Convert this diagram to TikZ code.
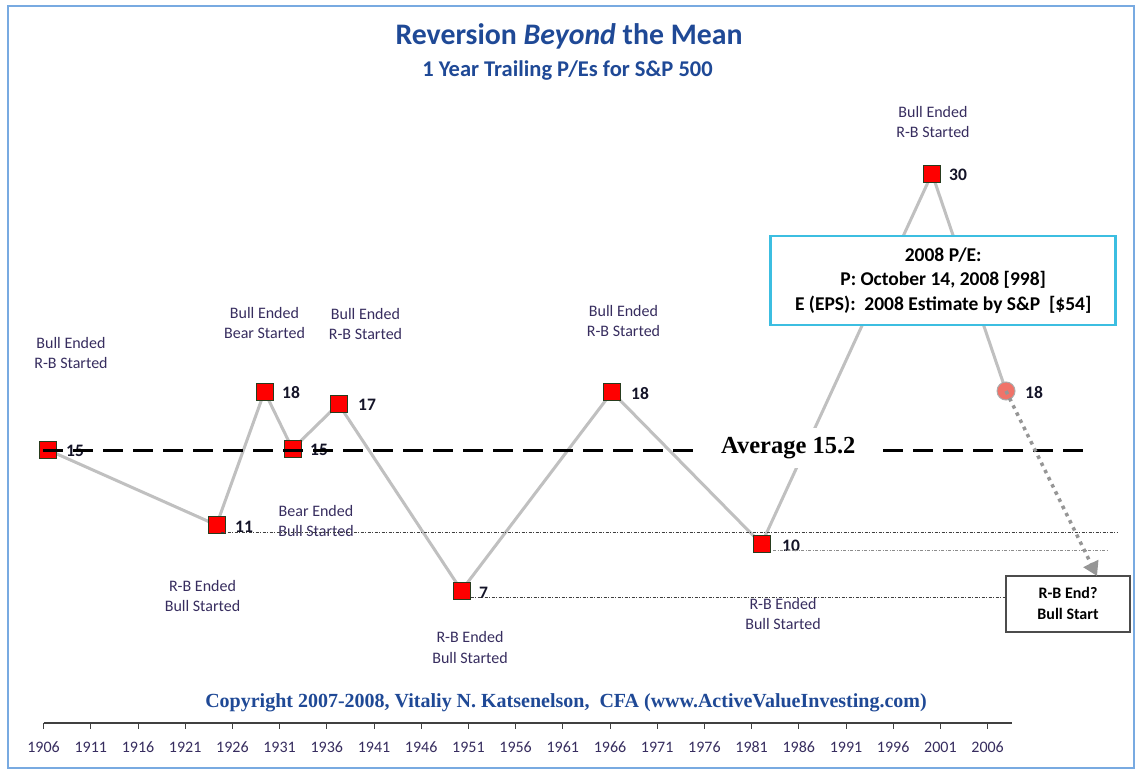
\documentclass[tikz,border=0pt]{standalone}
\usepackage{fontspec}
\setmainfont{Carlito}
\newfontfamily\timesfam{Liberation Serif}
\usetikzlibrary{arrows.meta}
\definecolor{titleblue}{RGB}{31,73,150}
\definecolor{lblcol}{RGB}{55,45,95}
\definecolor{linegray}{RGB}{192,192,192}
\definecolor{sqred}{RGB}{255,0,0}
\definecolor{sqedge}{RGB}{40,60,30}
\definecolor{calloutcyan}{RGB}{60,190,225}
\definecolor{framecol}{RGB}{120,170,225}
\definecolor{circred}{RGB}{240,115,105}
\definecolor{arrgray}{RGB}{150,150,150}
\definecolor{valcol}{RGB}{20,20,40}
\tikzset{
  ptbox/.style={draw=sqedge, fill=sqred, line width=0.8pt, minimum size=17pt, inner sep=0pt},
  conn/.style={draw=linegray, line width=3pt},
  note/.style={text=lblcol, font=\fontsize{16}{20.5}\selectfont, align=center, inner sep=0pt},
  val/.style={font=\bfseries\fontsize{17.5}{20}\selectfont, text=valcol, inner sep=0pt, anchor=west},
  avgdash/.style={draw=black, line width=3pt, dash pattern=on 20pt off 10pt},
  thindot/.style={draw=black!75, line width=0.8pt, dash pattern=on 3pt off 1.5pt on 1pt off 1.5pt},
  yearlbl/.style={text=lblcol, font=\fontsize{16}{18}\selectfont, inner sep=0pt, anchor=base},
}
\begin{document}
\begin{tikzpicture}[x=1pt,y=-1pt]
\useasboundingbox (0,0) rectangle (1137,770);
\fill[white] (0,0) rectangle (1137,770);
\draw[framecol, line width=2pt] (8,6) rectangle (1134,768);

% titles
\node[anchor=base, text=titleblue, font=\bfseries\fontsize{29.8}{34}\selectfont, inner sep=0pt] (title) at (569,45) {Reversion \textit{Beyond} the Mean};
\node[anchor=base, text=titleblue, font=\bfseries\fontsize{22.5}{26}\selectfont, inner sep=0pt] (subtitle) at (567.5,77) {1 Year Trailing P/Es for S\&P 500};

% data coordinates
\coordinate (p1) at (48,450);
\coordinate (p2) at (216.5,525);
\coordinate (p3) at (264.5,391.5);
\coordinate (p4) at (292.5,449);
\coordinate (p5) at (338.5,404);
\coordinate (p6) at (461.5,590.5);
\coordinate (p7) at (612,392);
\coordinate (p8) at (761.5,544);
\coordinate (p9) at (932,173.5);
\coordinate (p10) at (1006,391);

% connecting gray line
\draw[conn] (p1) -- (p2) -- (p3) -- (p4) -- (p5) -- (p6) -- (p7) -- (p8) -- (p9) -- (p10);

% squares
\node[ptbox] (s1) at (p1) {};
\node[ptbox] (s2) at (p2) {};
\node[ptbox] (s3) at (p3) {};
\node[ptbox] (s4) at (p4) {};
\node[ptbox] (s5) at (p5) {};
\node[ptbox] (s6) at (p6) {};
\node[ptbox] (s7) at (p7) {};
\node[ptbox] (s8) at (p8) {};
\node[ptbox] (s9) at (p9) {};
\node[circle, fill=circred, draw=arrgray!80, line width=1pt, minimum size=18pt, inner sep=0pt] (s10) at (p10) {};

% values
\node[val] (v1) at (66,451) {15};
\node[val] (v2) at (235,527) {11};
\node[val] (v3) at (282,392.5) {18};
\node[val] (v4) at (310,450) {15};
\node[val] (v5) at (358,405) {17};
\node[val] (v6) at (479,593) {7};
\node[val] (v7) at (631,394) {18};
\node[val] (v8) at (782,546) {10};
\node[val] (v9) at (949,175) {30};
\node[val] (v10) at (1025,393) {18};

% average line
\coordinate (avgL) at (43,450.5);
\coordinate (avgR) at (1087,450.5);
\draw[avgdash] (avgL) -- (avgR);

% notes
\node[note] (n1) at (71,353) {Bull Ended\\R-B Started};
\node[note] (n2) at (264.5,323) {Bull Ended\\Bear Started};
\node[note] (n3) at (365.5,324) {Bull Ended\\R-B Started};
\node[note] (n4) at (316,521) {Bear Ended\\Bull Started};
\node[note] (n5) at (202.5,596) {R-B Ended\\Bull Started};
\node[note] (n6) at (470,647.5) {R-B Ended\\Bull Started};
\node[note] (n7) at (623.5,321) {Bull Ended\\R-B Started};
\node[note] (n8) at (783,614) {R-B Ended\\Bull Started};
\node[note] (n9) at (933,122) {Bull Ended\\R-B Started};

% thin dotted reference lines
\coordinate (d1s) at (220.5,532);
\coordinate (d1e) at (1117,532);
\coordinate (d2s) at (773,550.5);
\coordinate (d2e) at (1107,550.5);
\coordinate (d3s) at (470.5,597);
\coordinate (d3e) at (1006,597);
\draw[thindot] (d1s) -- (d1e);
\draw[thindot, draw=black!45] (d2s) -- (d2e);
\draw[thindot] (d3s) -- (d3e);

% Average label
\node[fill=white, inner xsep=18pt, inner ysep=9pt, font=\timesfam\bfseries\fontsize{24.5}{28}\selectfont] (avg) at (788.3,448) {Average 15.2};

% callout
\node[draw=calloutcyan, line width=2.5pt, fill=white, minimum width=345pt, minimum height=89pt, inner sep=0pt, align=center, font=\bfseries\fontsize{19.5}{24.5}\selectfont] (callout) at (943.2,280.4) {2008 P/E:\\P: October 14, 2008 [998]\\E (EPS):\ \ 2008 Estimate by S\&P\ \ [\$54]};

% future box and arrow
\node[draw=black!70, line width=2pt, fill=white, minimum width=124pt, minimum height=56pt, inner sep=0pt, align=center, font=\bfseries\fontsize{16}{21}\selectfont] (rb) at (1068,603.7) {R-B End?\\Bull Start};
\coordinate (rbtip) at (1097,576);
\draw[arrgray, line width=3.5pt, dash pattern=on 3.5pt off 4.5pt, -{Triangle[width=16pt,length=14pt]}] (s10.center) -- (rbtip);

% copyright
\node[anchor=base, text=titleblue, font=\timesfam\bfseries\fontsize{20}{24}\selectfont, inner sep=0pt] (copy) at (566,707) {Copyright 2007-2008, Vitaliy N. Katsenelson,\ \ CFA (www.ActiveValueInvesting.com)};

% axis
\coordinate (axL) at (43.6,723);
\coordinate (axR) at (1012,723);
\draw[black!75, line width=1.5pt] (axL) -- (axR);
\foreach \k/\yr in {0/1906,1/1911,2/1916,3/1921,4/1926,5/1931,6/1936,7/1941,8/1946,9/1951,10/1956,11/1961,12/1966,13/1971,14/1976,15/1981,16/1986,17/1991,18/1996,19/2001,20/2006}{
  \draw[black!75, line width=1pt] (43.6+47.2*\k,723) -- (43.6+47.2*\k,729);
  \node[yearlbl] (y\k) at (43.6+47.2*\k,752) {\yr};
}
\end{tikzpicture}
\end{document}
